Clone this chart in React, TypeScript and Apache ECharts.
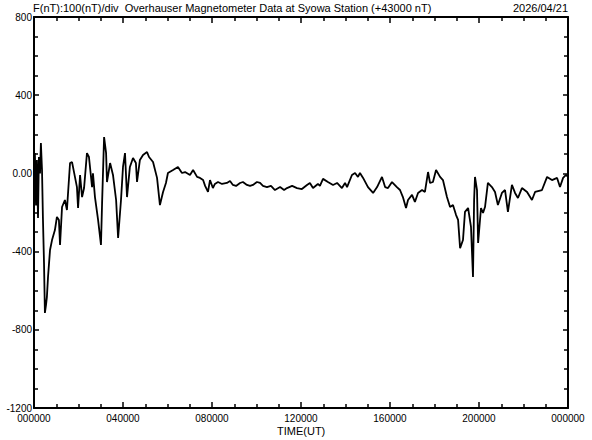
import React, { useEffect, useRef } from "react";
import * as echarts from "echarts";

// Time in hours (UT) and total force deviation F (nT, relative to +43000 nT)
const hours: number[] = [
  0, 0.04, 0.09, 0.13, 0.18, 0.22, 0.27, 0.31, 0.36, 0.4, 0.45, 0.49, 0.54, 0.58, 0.63, 0.72, 0.81, 0.94,
  1.03, 1.12, 1.17, 1.26, 1.39, 1.48, 1.62, 1.71, 1.93, 1.98, 2.07, 2.16, 2.25, 2.38, 2.47, 2.61, 2.65, 2.74,
  2.88, 3.01, 3.06, 3.15, 3.24, 3.28, 3.42, 3.55, 3.69, 3.78, 3.91, 4.0, 4.09, 4.18, 4.31, 4.45, 4.58, 4.63,
  4.76, 4.9, 5.08, 5.17, 5.35, 5.53, 5.66, 5.8, 5.93, 6.02, 6.25, 6.47, 6.65, 6.79, 7.01, 7.15,
  7.33, 7.46, 7.6, 7.69, 7.82, 7.91, 8.04, 8.13, 8.27, 8.45, 8.67, 8.81, 8.94, 9.08, 9.26, 9.39, 9.57, 9.71,
  9.84, 10.02, 10.16, 10.29, 10.47, 10.65, 10.83, 11.06, 11.24, 11.37, 11.6, 11.82, 12.04, 12.27, 12.4,
  12.54, 12.76, 12.85, 12.99, 13.21, 13.44, 13.62, 13.84, 13.98, 14.07,
  14.29, 14.43, 14.56, 14.65, 14.79, 15.01, 15.24,
  15.42, 15.64, 15.78, 15.91, 16.09, 16.31, 16.45, 16.58, 16.72, 16.81, 16.99, 17.12, 17.26, 17.44, 17.57,
  17.71, 17.8, 17.93, 18.07, 18.25, 18.38, 18.56, 18.7, 18.83, 18.97, 19.06, 19.15, 19.28, 19.37, 19.51,
  19.64, 19.73, 19.78, 19.82, 19.91, 19.96, 20.09, 20.18, 20.27, 20.4, 20.58, 20.72, 20.85, 21.03, 21.17,
  21.3, 21.48, 21.62, 21.75, 21.93, 22.16, 22.38, 22.52, 22.83, 23.06, 23.28, 23.51, 23.64, 23.78, 23.91, 24.0,
];
const fValues: number[] = [
  53, 104, -164, 69, -228, 84, 0, 155, 17, -223, -458, -714, -673, -632, -530, -392, -341, -290,
  -223, -238, -366, -172, -136, -187, 53, 58, -70, -177, -8, -121, -75, 104, 84, -70, 0, -121,
  -238, -366, -151, 186, 104, -44, 53, -8, -136, -330, -136, 33, 104, -121, 33, 79, 53, -44,
  69, 94, 109, 84, 58, -23, -162, -95, -49, 2, 17, 33, 2, 7, -8, 17,
  -18, -23, -34, -64, -95, -34, -75, -54, -44, -54, -49, -39, -59, -64, -49, -44, -59, -64,
  -59, -44, -49, -64, -70, -64, -85, -70, -85, -75, -64, -75, -80, -59, -49,
  -75, -54, -64, -28, -44, -59, -49, -75, -49, -70,
  -8, 2, -18, 2, -23, -70, -100,
  -70, -18, -70, -75, -44, -70, -85, -121, -177, -136, -110, -146, -100, -85, -95,
  7, -49, -44, 17, -18, -34, -121, -172, -162, -213, -238, -382, -341, -197, -177,
  -274, -530, -136, -18, -85, -356, -177, -202, -172, -49, -70, -95, -162, -100, -85,
  -197, -59, -100, -126, -75, -95, -136, -95, -85, -18, -34, -23, -70, -23, -8, -18,
];

const yTickLabels: Record<string, string> = {
  "800": "800",
  "400": "400",
  "0": "0.00",
  "-400": "-400",
  "-800": "-800",
  "-1200": "-1200",
};

const titleText = "F(nT):100(nT)/div  Overhauser Magnetometer Data at Syowa Station (+43000 nT)";
const dateText = "2026/04/21";
const xAxisTitle = "TIME(UT)";

const FONT = "'Liberation Sans', Arial, sans-serif";

export default function App() {
  const ref = useRef<HTMLDivElement>(null);
  useEffect(() => {
    if (!ref.current) return;
    const chart = echarts.init(ref.current, undefined, { renderer: "svg" });
    const data = hours.map((h, i) => [h, fValues[i]]);
    const xCommon = {
      type: "value" as const,
      min: 0,
      max: 24,
      interval: 4,
      axisLine: { show: true, onZero: false, lineStyle: { color: "#000", width: 2 } },
      axisTick: { show: true, inside: true, length: 6, lineStyle: { color: "#000", width: 1.5 } },
      minorTick: { show: true, splitNumber: 4, length: 4, lineStyle: { color: "#000", width: 1.5 } },
      splitLine: { show: false },
    };
    const yCommon = {
      type: "value" as const,
      min: -1200,
      max: 800,
      interval: 400,
      axisLine: { show: true, onZero: false, lineStyle: { color: "#000", width: 2 } },
      axisTick: { show: true, inside: true, length: 5, lineStyle: { color: "#000", width: 1.5 } },
      minorTick: { show: true, splitNumber: 4, length: 4, lineStyle: { color: "#000", width: 1.5 } },
      splitLine: { show: false },
    };
    chart.setOption({
      animation: false,
      backgroundColor: "#fff",
      grid: { left: 34, top: 17, right: 24, bottom: 32, containLabel: false },
      xAxis: [
        {
          ...xCommon,
          position: "bottom",
          axisLabel: {
            show: true,
            color: "#000",
            fontSize: 10,
            fontFamily: FONT,
            margin: 5,
            formatter: (v: number) => String(v % 24).padStart(2, "0") + "0000",
          },
        },
        { ...xCommon, position: "top", axisLabel: { show: false } },
      ],
      yAxis: [
        {
          ...yCommon,
          position: "left",
          axisLabel: {
            show: true,
            color: "#000",
            fontSize: 10,
            fontFamily: FONT,
            margin: 2,
            formatter: (v: number) => yTickLabels[String(v)] ?? String(v),
          },
        },
        { ...yCommon, position: "right", axisLabel: { show: false } },
      ],
      series: [
        {
          type: "line",
          data,
          xAxisIndex: 0,
          yAxisIndex: 0,
          showSymbol: false,
          symbol: "none",
          lineStyle: { color: "#000", width: 1.8 },
          clip: true,
        },
      ],
      graphic: [
        {
          type: "text",
          left: 33,
          top: 2,
          style: { text: titleText, fill: "#000", font: `11px ${FONT}` },
        },
        {
          type: "text",
          right: 24,
          top: 2,
          style: { text: dateText, fill: "#000", font: `11px ${FONT}` },
        },
        {
          type: "text",
          left: 277,
          top: 425,
          style: { text: xAxisTitle, fill: "#000", font: `11px ${FONT}` },
        },
      ],
    });
    return () => chart.dispose();
  }, []);
  return (
    <div
      ref={ref}
      style={{ position: "fixed", left: 0, top: 0, width: 592, height: 440, background: "#fff" }}
    />
  );
}
